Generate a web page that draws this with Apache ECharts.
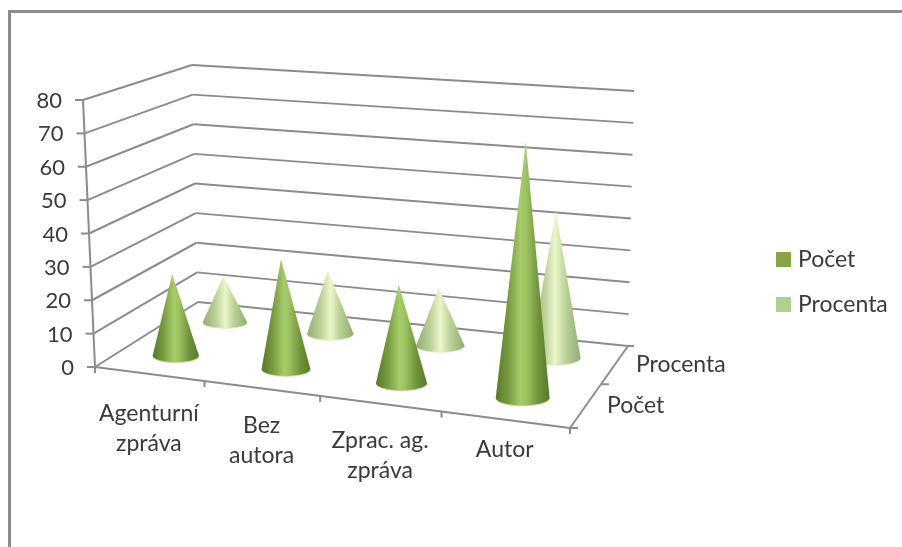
<!DOCTYPE html>
<html>
<head>
<meta charset="utf-8">
<style>
html, body { margin: 0; padding: 0; background: #fff; }
#main { width: 902px; height: 547px; }
</style>
<script src="https://cdn.jsdelivr.net/npm/echarts@6/dist/echarts.min.js"></script>
</head>
<body>
<div id="main"></div>
<script>
// data
var categories = ['Agenturní\nzpráva', 'Bez\nautora', 'Zprac. ag.\nzpráva', 'Autor'];
var depthNames = ['Počet', 'Procenta'];
var pocet = [25, 33, 29, 74];
var procenta = [15, 20, 18, 45];
var yTicks = [0, 10, 20, 30, 40, 50, 60, 70, 80];

// the chart is a 3d box: corners of floor and ceiling on screen
var floorQuad = [[95, 367], [570, 428], [628, 346], [198, 302]];
var ceilQuad = [[83, 100], [583, 141], [634, 91], [192, 65]];

// hidden grid, only used to run values through the echarts scales
var G = { left: 100, top: 100, width: 400, height: 240 };

var fontName = 'Lato, "Open Sans", sans-serif';
var textColor = '#3a3a3a';
var lineColor = '#8c8c8c';

function homography(q) {
    var x0 = q[0][0], y0 = q[0][1], x1 = q[1][0], y1 = q[1][1];
    var x2 = q[2][0], y2 = q[2][1], x3 = q[3][0], y3 = q[3][1];
    var dx1 = x1 - x2, dx2 = x3 - x2, sx = x0 - x1 + x2 - x3;
    var dy1 = y1 - y2, dy2 = y3 - y2, sy = y0 - y1 + y2 - y3;
    var den = dx1 * dy2 - dx2 * dy1;
    var g = (sx * dy2 - dx2 * sy) / den;
    var h = (dx1 * sy - sx * dy1) / den;
    var a = x1 - x0 + g * x1, b = x3 - x0 + h * x3;
    var d = y1 - y0 + g * y1, e = y3 - y0 + h * y3;
    return function (u, v) {
        // the original spaces its categories a bit more evenly than pure perspective
        u = u + 0.012 * Math.sin(Math.PI * u);
        var w = g * u + h * v + 1;
        return [(a * u + b * v + x0) / w, (d * u + e * v + y0) / w];
    };
}
var floorAt = homography(floorQuad);
var ceilAt = homography(ceilQuad);

// u: along categories, d: depth, t: height 0..1
function project(u, d, t) {
    var f = floorAt(u, d), c = ceilAt(u, d);
    return [f[0] + (c[0] - f[0]) * t, f[1] + (c[1] - f[1]) * t];
}
function unitX(p) { return (p[0] - G.left) / G.width; }
function unitY(p) { return (G.top + G.height - p[1]) / G.height; }

function line(a, b, width) {
    return {
        type: 'line',
        shape: { x1: a[0], y1: a[1], x2: b[0], y2: b[1] },
        style: { stroke: lineColor, lineWidth: width || 2 }
    };
}
function label(pos, str, align, vAlign, size) {
    return {
        type: 'text',
        x: pos[0], y: pos[1],
        style: {
            text: str, fill: textColor, font: (size || 23) + 'px ' + fontName,
            align: align, verticalAlign: vAlign, lineHeight: 30
        }
    };
}

// gridlines on both walls, with the tick and label of the value axis
function renderWall(params, api) {
    var t = unitY(api.coord([0, api.value(1)]));
    var front = project(0, 0, t), corner = project(0, 1, t), right = project(1, 1, t);
    return {
        type: 'group',
        children: [
            line(front, corner),
            line(corner, right),
            line([front[0] - 8, front[1]], front),
            label([front[0] - 21, front[1] + 1], String(api.value(1)), 'right', 'middle', 22)
        ]
    };
}

// value axis and floor axes with their ticks
function renderFloor() {
    var kids = [
        line(project(0, 0, 0), project(0, 0, 1)),
        line(floorAt(0, 0), floorAt(1, 0)),
        line(floorAt(1, 0), floorAt(1, 1)),
        line(floorAt(1, 1), [floorAt(1, 1)[0] + 6, floorAt(1, 1)[1]])
    ];
    for (var i = 0; i <= categories.length; i++) {
        var p = floorAt(i / categories.length, 0);
        kids.push(line(p, [p[0], p[1] + 6]));
    }
    for (var k = 0; k < depthNames.length; k++) {
        var q = floorAt(1, k / depthNames.length);
        kids.push(line(q, [q[0] + 8, q[1]]));
    }
    return { type: 'group', children: kids };
}

var labelNudge = [3, 0, 0, -7];
function renderCategoryLabel(params, api) {
    var i = api.value(0);
    var p = floorAt(unitX(api.coord([i, 0])), 0);
    return label([p[0], p[1] + 22 + labelNudge[i]], categories[i], 'center', 'top');
}
function renderDepthLabel(params, api) {
    var i = api.value(0);
    var p = floorAt(1, (i + 0.5) / depthNames.length);
    return label([p[0] + 21, p[1]], depthNames[i], 'left', 'middle');
}

function renderCone(depthIndex, stops, rim) {
    return function (params, api) {
        var pos = api.coord([api.value(0), api.value(1)]);
        var u = unitX(pos), t = unitY(pos);
        var d = (depthIndex + 0.5) / depthNames.length;
        var base = floorAt(u, d), apex = project(u, d, t);
        var l = floorAt(u - 0.054, d), r = floorAt(u + 0.054, d);
        var rx = (r[0] - l[0]) / 2;
        var ry = (floorAt(u, d - 0.09)[1] - floorAt(u, d + 0.09)[1]) / 2;
        var pts = [apex];
        for (var k = 0; k <= 24; k++) {
            var a = Math.PI * (1 - k / 24);
            pts.push([base[0] + rx * Math.cos(a), base[1] + ry * Math.sin(a)]);
        }
        return {
            type: 'group',
            children: [
                {
                    type: 'ellipse',
                    shape: { cx: base[0], cy: base[1] + 1, rx: rx, ry: ry },
                    style: { fill: rim }
                },
                {
                    type: 'polygon',
                    shape: { points: pts },
                    style: { fill: { type: 'linear', x: 0, y: 0, x2: 1, y2: 0, colorStops: stops } }
                },
                {
                    type: 'polygon',
                    shape: { points: pts },
                    style: {
                        fill: {
                            type: 'linear', x: 0, y: 0, x2: 0, y2: 1,
                            colorStops: [
                                { offset: 0, color: 'rgba(255,255,255,0.2)' },
                                { offset: 0.12, color: 'rgba(255,255,255,0)' }
                            ]
                        }
                    }
                }
            ]
        };
    };
}

var pocetStops = [
    { offset: 0, color: '#587a2b' },
    { offset: 0.22, color: '#76983c' },
    { offset: 0.46, color: '#a6cb69' },
    { offset: 0.56, color: '#9fc362' },
    { offset: 0.8, color: '#70913a' },
    { offset: 1, color: '#587a2b' }
];
var procentaStops = [
    { offset: 0, color: '#93ad74' },
    { offset: 0.28, color: '#b9cf96' },
    { offset: 0.5, color: '#eaf6c9' },
    { offset: 0.72, color: '#b9cf96' },
    { offset: 1, color: '#93ad74' }
];

function toPairs(arr) {
    return arr.map(function (v, i) { return [i, v]; });
}
function indexPairs(arr) {
    return arr.map(function (v, i) { return [i, 0]; });
}

var option = {
    backgroundColor: '#fff',
    animation: false,
    grid: { left: G.left, top: G.top, width: G.width, height: G.height, show: false },
    xAxis: { type: 'category', data: categories, show: false },
    yAxis: { type: 'value', min: 0, max: 80, interval: 10, show: false },
    legend: {
        orient: 'vertical',
        left: 771,
        top: 243,
        itemWidth: 15,
        itemHeight: 15,
        itemGap: 22,
        icon: 'rect',
        data: depthNames,
        textStyle: { fontFamily: fontName, fontSize: 23, color: textColor, padding: [0, 0, 0, 2] }
    },
    graphic: [{
        type: 'polyline',
        shape: { points: [[9.5, 547], [9.5, 11.5], [902, 11.5]] },
        style: { stroke: '#8c8c8c', lineWidth: 3, fill: null },
        silent: true
    }],
    series: [
        {
            name: 'walls', type: 'custom', z: 1, silent: true,
            renderItem: renderWall,
            data: yTicks.map(function (v) { return [0, v]; })
        },
        {
            name: 'floor', type: 'custom', z: 1, silent: true,
            renderItem: renderFloor,
            data: [[0, 0]]
        },
        {
            name: 'categoryLabels', type: 'custom', z: 1, silent: true,
            renderItem: renderCategoryLabel,
            data: indexPairs(categories)
        },
        {
            name: 'depthLabels', type: 'custom', z: 1, silent: true,
            renderItem: renderDepthLabel,
            data: indexPairs(depthNames)
        },
        {
            name: 'Procenta', type: 'custom', z: 2, silent: true,
            color: '#b3cf8f',
            itemStyle: { color: '#b3cf8f' },
            renderItem: renderCone(1, procentaStops, '#e3efc6'),
            data: toPairs(procenta)
        },
        {
            name: 'Počet', type: 'custom', z: 3, silent: true,
            color: '#84a549',
            itemStyle: { color: '#84a549' },
            renderItem: renderCone(0, pocetStops, '#c6de98'),
            data: toPairs(pocet)
        }
    ]
};

var myChart = echarts.init(document.getElementById('main'));
myChart.setOption(option);
</script>
</body>
</html>
